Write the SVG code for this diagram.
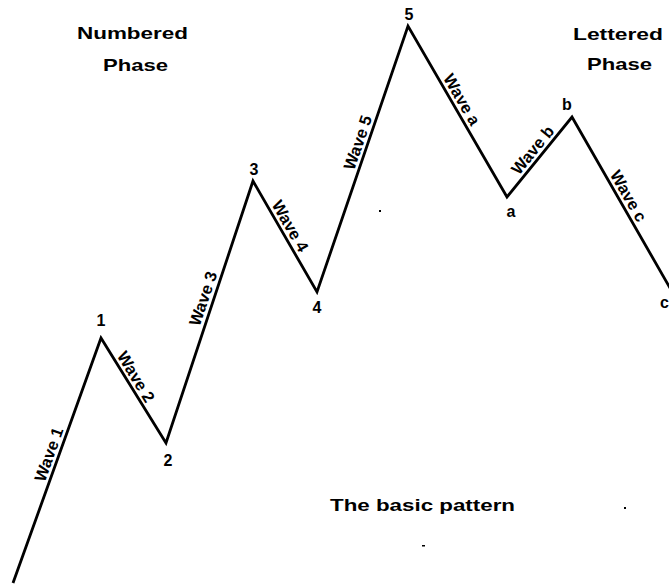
<svg xmlns="http://www.w3.org/2000/svg" width="669" height="585" viewBox="0 0 669 585">
<style>
  .wave { fill: none; stroke: #000; stroke-width: 2.8; stroke-linejoin: miter; stroke-linecap: butt; }
  text { font-family: "Liberation Sans", Arial, sans-serif; font-weight: bold; fill: #000; }
  .head { font-size: 17px; text-anchor: middle; }
  .pt { font-size: 16px; text-anchor: middle; }
  .lbl { font-size: 16.5px; text-anchor: middle; }
  .speck { fill: #000; }
</style>
<rect width="669" height="585" fill="#fff"/>

<g id="connectors">
  <polyline class="wave" points="13,583 101,338 166,443 253,181 317,292 408,26 507,197 572,117 672,291.5"/>
</g>

<g id="wave-labels">
  <text class="lbl" transform="translate(54.2,456.3) rotate(-70.2)">Wave 1</text>
  <text class="lbl" transform="translate(131.1,379.8) rotate(58.6)">Wave 2</text>
  <text class="lbl" transform="translate(208.5,300.4) rotate(-71.4)">Wave 3</text>
  <text class="lbl" transform="translate(285.2,228.8) rotate(60)">Wave 4</text>
  <text class="lbl" transform="translate(363.2,144.5) rotate(-71.1)">Wave 5</text>
  <text class="lbl" transform="translate(456.9,102.4) rotate(59.9)">Wave a</text>
  <text class="lbl" transform="translate(537.1,153.6) rotate(-50.9)">Wave b</text>
  <text class="lbl" transform="translate(623.6,198.9) rotate(60.2)">Wave c</text>
</g>

<g id="point-1"><text class="pt" x="101" y="326">1</text></g>
<g id="point-2"><text class="pt" x="168" y="466">2</text></g>
<g id="point-3"><text class="pt" x="254" y="175">3</text></g>
<g id="point-4"><text class="pt" x="317" y="313">4</text></g>
<g id="point-5"><text class="pt" x="409" y="20">5</text></g>
<g id="point-a"><text class="pt" x="511" y="217">a</text></g>
<g id="point-b"><text class="pt" x="567" y="110">b</text></g>
<g id="point-c"><text class="pt" x="660" y="308" style="text-anchor:start">c</text></g>

<g id="numbered-phase">
  <text class="head" x="132.5" y="39" textLength="111" lengthAdjust="spacingAndGlyphs">Numbered</text>
  <text class="head" x="135.5" y="71" textLength="65" lengthAdjust="spacingAndGlyphs">Phase</text>
</g>
<g id="lettered-phase">
  <text class="head" x="618" y="40" textLength="90" lengthAdjust="spacingAndGlyphs">Lettered</text>
  <text class="head" x="619.5" y="70" textLength="65" lengthAdjust="spacingAndGlyphs">Phase</text>
</g>
<g id="caption">
  <text class="head" x="422.5" y="511" textLength="185" lengthAdjust="spacingAndGlyphs">The basic pattern</text>
</g>

<g id="specks">
  <rect class="speck" x="379" y="210" width="2" height="2"/>
  <rect class="speck" x="624" y="507" width="2" height="2"/>
  <rect class="speck" x="422" y="545" width="3" height="1.5"/>
</g>
</svg>
